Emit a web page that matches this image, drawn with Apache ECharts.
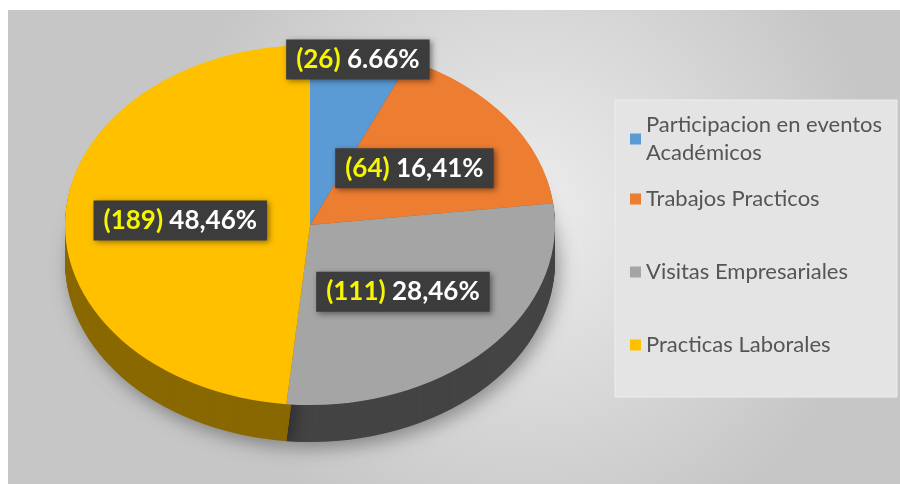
<!DOCTYPE html>
<html>
<head>
<meta charset="utf-8">
<script src="https://cdn.jsdelivr.net/npm/echarts@6/dist/echarts.min.js"></script>
<style>
html,body{margin:0;padding:0;background:#fff;}
#chart{width:900px;height:484px;}
</style>
</head>
<body>
<div id="chart"></div>
<script>
// datos
var categories = ['Participacion en eventos Académicos', 'Trabajos Practicos', 'Visitas Empresariales', 'Practicas Laborales'];
var counts = [26, 64, 111, 189];
var percentLabels = ['6.66%', '16,41%', '28,46%', '48,46%'];

var topColors = ['#5b9bd5', '#ed7d31', '#a5a5a5', '#ffc000'];
var sideColors = ['#2f5f8e', '#9a4d16', '#444444', '#8a6800'];

// pie geometry (tilted)
var cx = 310, cy = 225, rx = 245, ry = 180, depth = 37;

var total = 0;
var starts = [];
for (var i = 0; i < counts.length; i++) {
  starts.push(total);
  total += counts[i];
}

function renderSlice(params, api) {
  var idx = params.dataIndex;
  var val = api.value(0);
  var a0 = -Math.PI / 2 + 2 * Math.PI * starts[idx] / total;
  var a1 = -Math.PI / 2 + 2 * Math.PI * (starts[idx] + val) / total;
  var children = [];
  // side wall: stacked layers
  for (var d = depth; d >= 1; d--) {
    var st = { fill: sideColors[idx] };
    if (d === depth) {
      st.shadowBlur = 18;
      st.shadowColor = 'rgba(0,0,0,0.35)';
      st.shadowOffsetX = 4;
      st.shadowOffsetY = 6;
    }
    children.push({
      type: 'sector',
      x: cx, y: cy + d,
      scaleY: ry / rx,
      z2: 0,
      shape: { cx: 0, cy: 0, r: rx, r0: 0, startAngle: a0, endAngle: a1, clockwise: true },
      style: st
    });
  }
  // top face
  children.push({
    type: 'sector',
    x: cx, y: cy,
    scaleY: ry / rx,
    z2: 10,
    shape: { cx: 0, cy: 0, r: rx, r0: 0, startAngle: a0, endAngle: a1, clockwise: true },
    style: { fill: topColors[idx] }
  });
  // label
  var mid = 2 * Math.PI * (starts[idx] + val / 2) / total;
  var f = val / total < 0.1 ? 0.94 : 0.53;
  var lx = cx + f * rx * Math.sin(mid);
  var ly = cy - f * ry * Math.cos(mid);
  children.push({
    type: 'text',
    x: lx, y: ly,
    z2: 30,
    style: {
      text: '{a|(' + val + ')} {b|' + percentLabels[idx] + '}',
      rich: {
        a: { fill: '#f6f600', fontFamily: 'Lato', fontWeight: 'bold', fontSize: 26 },
        b: { fill: '#ffffff', fontFamily: 'Lato', fontWeight: 'bold', fontSize: 26 }
      },
      fontFamily: 'Lato', fontWeight: 'bold', fontSize: 26,
      align: 'center', verticalAlign: 'middle',
      backgroundColor: '#3c3c3c',
      padding: [7, 10, 7, 10],
      shadowBlur: 6, shadowColor: 'rgba(0,0,0,0.45)', shadowOffsetX: 2, shadowOffsetY: 2
    }
  });
  return { type: 'group', children: children };
}

var chart = echarts.init(document.getElementById('chart'));
var option = {
  animation: false,
  backgroundColor: '#ffffff',
  color: topColors,
  graphic: [
    {
      type: 'rect', z: -10, silent: true,
      shape: { x: 8, y: 10, width: 892, height: 474 },
      style: {
        fill: {
          type: 'radial', x: 0.58, y: 0.42, r: 0.75,
          colorStops: [{ offset: 0, color: '#ededed' }, { offset: 1, color: '#c6c6c6' }]
        }
      }
    },
    {
      type: 'rect', z: -9, silent: true,
      shape: { x: 615, y: 100, width: 282, height: 297 },
      style: { fill: '#e4e4e4', stroke: '#ededed', lineWidth: 1 }
    }
  ],
  legend: [
    {
      orient: 'vertical', left: 630, top: 111, padding: 0,
      icon: 'rect', itemWidth: 11, itemHeight: 11, itemGap: 45,
      data: [categories[0]],
      formatter: function (name) { return name.replace(/ (\S+)$/, '\n$1'); },
      textStyle: { fontFamily: 'Lato', fontSize: 22, color: '#555555', lineHeight: 28 },
      selectedMode: false
    },
    {
      orient: 'vertical', left: 630, top: 185, padding: 0,
      icon: 'rect', itemWidth: 11, itemHeight: 11, itemGap: 45,
      data: categories.slice(1),
      textStyle: { fontFamily: 'Lato', fontSize: 22, color: '#555555', lineHeight: 28 },
      selectedMode: false
    }
  ],
  series: [
    {
      // only feeds the legend
      type: 'pie',
      radius: [0, 0],
      center: [cx, cy],
      silent: true,
      label: { show: false },
      labelLine: { show: false },
      data: categories.map(function (n, i) { return { name: n, value: counts[i] }; })
    },
    {
      type: 'custom',
      coordinateSystem: 'none',
      silent: true,
      renderItem: renderSlice,
      data: counts.map(function (v, i) { return [v, i]; })
    }
  ]
};
chart.setOption(option);
</script>
</body>
</html>
